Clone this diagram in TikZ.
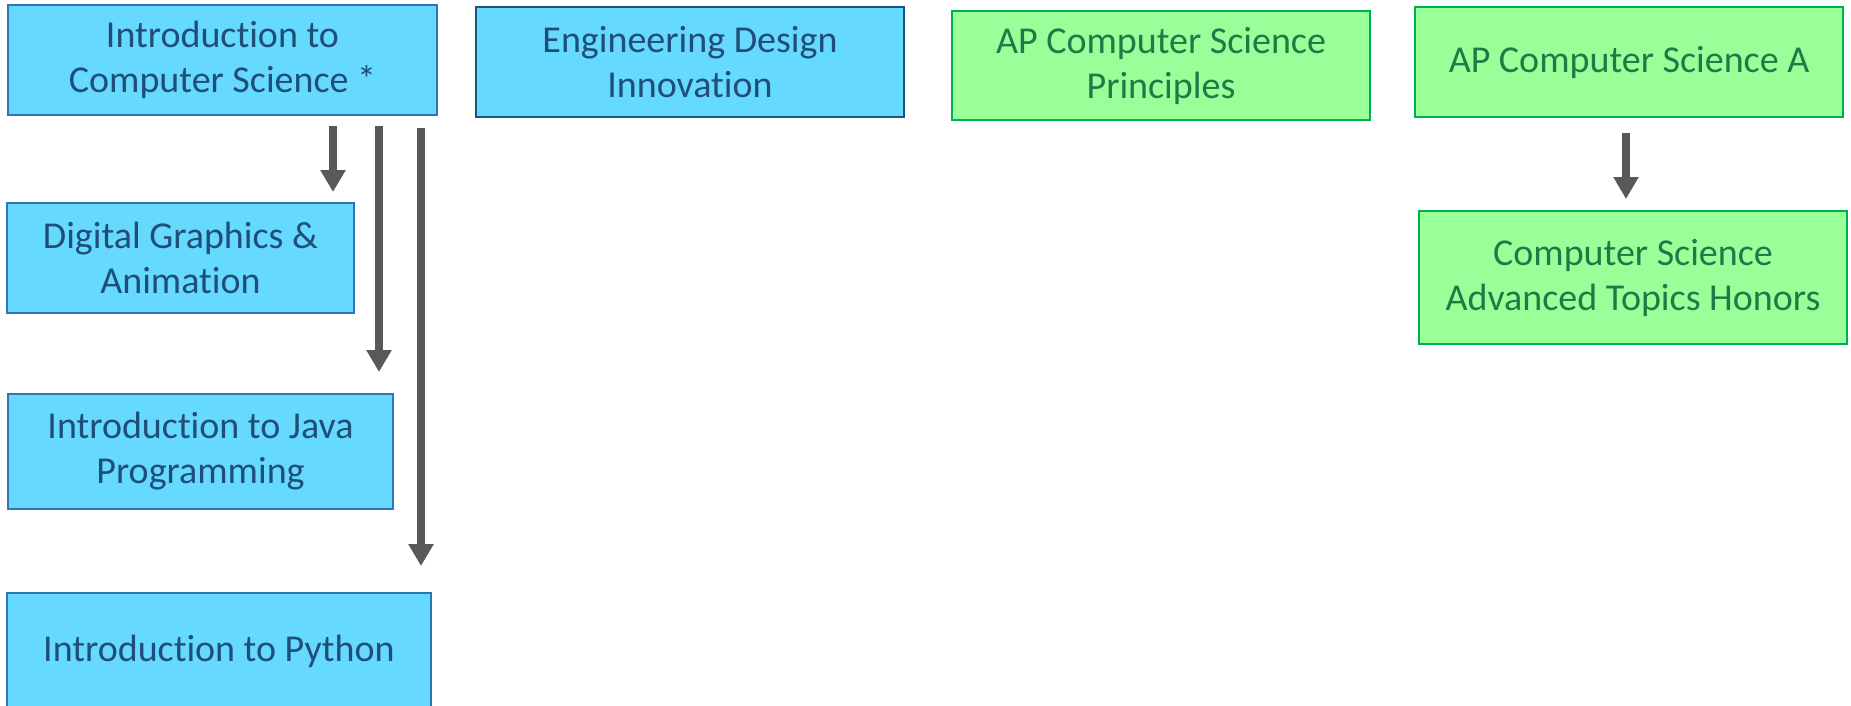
\documentclass[tikz,border=0pt]{standalone}
\usepackage{fontspec}
\setmainfont[Ligatures={NoCommon,NoContextual},RawFeature=-liga]{Carlito}
\usepackage{xcolor}
\usetikzlibrary{arrows.meta}
\definecolor{csfill}{HTML}{66D9FF}
\definecolor{csline}{HTML}{2E75B6}
\definecolor{cstext}{HTML}{1F4E79}
\definecolor{apfill}{HTML}{99FF99}
\definecolor{apline}{HTML}{00B050}
\definecolor{aptext}{HTML}{1F7A45}
\definecolor{arrowgray}{HTML}{595959}
\tikzset{
course/.style={draw=csline,fill=csfill,text=cstext,line width=1pt,align=center,inner sep=0pt,font=\fontsize{19}{22.5}\selectfont},
apcourse/.style={course,draw=apline,fill=apfill,text=aptext},
prereq/.style={draw=arrowgray,line width=4pt,-{Triangle[width=12pt,length=11pt]}}
}
\begin{document}
\begin{tikzpicture}
\useasboundingbox (0pt,0pt) rectangle (925.5pt,-353pt);
\node[course,minimum width=214.5pt,minimum height=55pt] (intro) at (111.25pt,-30pt) {Introduction to\\Computer Science *};
\node[course,minimum width=173.5pt,minimum height=55pt] (graphics) at (90.25pt,-129pt) {Digital Graphics \&\\Animation};
\node[course,minimum width=192.5pt,minimum height=57.5pt] (java) at (100.25pt,-225.75pt) {Introduction to Java\\Programming};
\node[course,minimum width=212pt,minimum height=58pt] (python) at (109.5pt,-325.5pt) {Introduction to Python};
\node[course,draw=csline!70!black,minimum width=214pt,minimum height=55pt] (design) at (345pt,-31pt) {Engineering Design\\Innovation};
\node[apcourse,minimum width=209pt,minimum height=54.5pt] (apcsp) at (580.5pt,-32.75pt) {AP Computer Science\\Principles};
\node[apcourse,minimum width=214pt,minimum height=55pt] (apcsa) at (814.5pt,-31pt) {AP Computer Science A};
\node[apcourse,minimum width=214pt,minimum height=66.5pt] (topics) at (816.5pt,-138.75pt) {Computer Science\\Advanced Topics Honors};
\coordinate (s1) at ([xshift=55.25pt]intro.south);
\coordinate (s2) at ([xshift=78.25pt]intro.south);
\coordinate (s3) at ([xshift=99.25pt]intro.south);
\coordinate (s4) at ([xshift=-1.5pt]apcsa.south);
\draw[prereq,shorten <=5pt,shorten >=5pt] (s1) -- (s1 |- graphics.north);
\draw[prereq,shorten <=5pt,shorten >=10.5pt] (s2) -- (s2 |- java.north);
\draw[prereq,shorten <=6pt,shorten >=13pt] (s3) -- (s3 |- python.north);
\draw[prereq,shorten <=7.5pt,shorten >=5.5pt] (s4) -- (s4 |- topics.north);
\end{tikzpicture}
\end{document}
